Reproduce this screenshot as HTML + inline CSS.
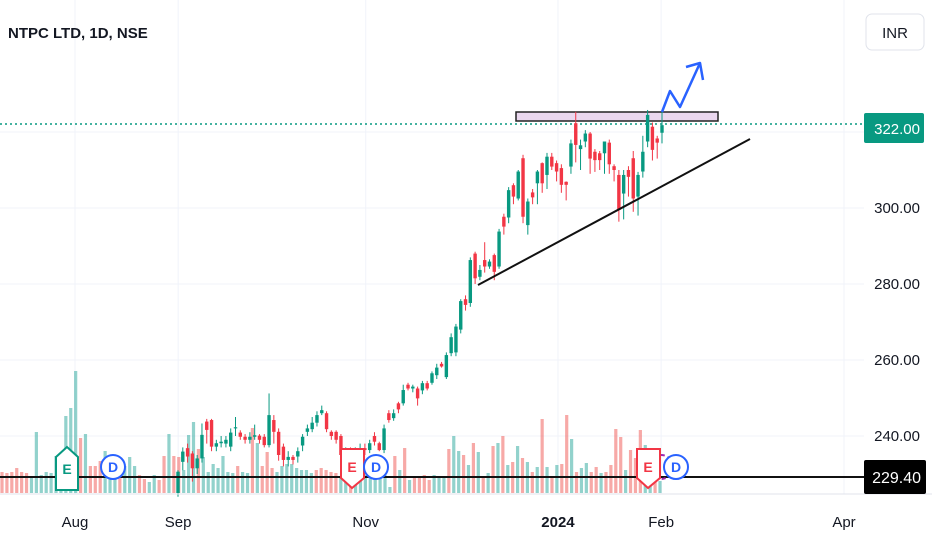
<!DOCTYPE html>
<html><head><meta charset="utf-8"><style>
html,body{margin:0;padding:0;background:#fff}
svg{display:block;font-family:"Liberation Sans",sans-serif}
</style></head><body>
<svg id="chart" width="932" height="550" viewBox="0 0 932 550" xmlns="http://www.w3.org/2000/svg">
<rect width="932" height="550" fill="#fff"/>
<g id="grid"></g>
<g id="vol"></g>
<line x1="0" y1="124" x2="864" y2="124" stroke="#089981" stroke-width="1.5" stroke-dasharray="2,3"/>
<rect x="516" y="112" width="202" height="9" fill="#ead7ee" stroke="#222" stroke-width="1.5"/>
<g id="candles"></g>
<line x1="478" y1="285" x2="750" y2="139" stroke="#111" stroke-width="2"/>
<polyline points="662,112 670,91 680,107 700,63" fill="none" stroke="#2962ff" stroke-width="2.5" stroke-linejoin="round"/>
<polyline points="686,67 700,63 703,80" fill="none" stroke="#2962ff" stroke-width="2.5" stroke-linejoin="round"/>
<line x1="0" y1="477" x2="864" y2="477" stroke="#111" stroke-width="2"/>
<g>
<polygon points="67,447 78,457 78,490 56,490 56,457" fill="#fff" stroke="#089981" stroke-width="2"/>
<text x="67" y="474" text-anchor="middle" font-size="14" font-weight="bold" fill="#089981">E</text></g>
<g>
<circle cx="113" cy="467" r="12" fill="#fff" stroke="#2962ff" stroke-width="2"/>
<text x="113" y="472" text-anchor="middle" font-size="14" font-weight="bold" fill="#2962ff">D</text></g>
<g>
<polygon points="341,449 364,449 364,478 352,488 341,478" fill="#fff" stroke="#f23645" stroke-width="2"/>
<text x="352" y="472" text-anchor="middle" font-size="14" font-weight="bold" fill="#f23645">E</text></g>
<g>
<circle cx="376" cy="467" r="12" fill="#fff" stroke="#2962ff" stroke-width="2"/>
<text x="376" y="472" text-anchor="middle" font-size="14" font-weight="bold" fill="#2962ff">D</text></g>
<circle cx="661" cy="467" r="12" fill="none" stroke="#9c27b0" stroke-width="2" stroke-dasharray="4,3"/>
<g>
<polygon points="637,449 660,449 660,478 648,488 637,478" fill="#fff" stroke="#f23645" stroke-width="2"/>
<text x="648" y="472" text-anchor="middle" font-size="14" font-weight="bold" fill="#f23645">E</text></g>
<g>
<circle cx="676" cy="467" r="12" fill="#fff" stroke="#2962ff" stroke-width="2"/>
<text x="676" y="472" text-anchor="middle" font-size="14" font-weight="bold" fill="#2962ff">D</text></g>
<line x1="0" y1="494" x2="932" y2="494" stroke="#e0e3eb" stroke-width="1"/>
<text x="8" y="38" font-size="15" font-weight="bold" fill="#131722">NTPC LTD, 1D, NSE</text>
<g>
<rect x="866" y="14" width="58" height="36" rx="6" fill="#fff" stroke="#e0e3eb"/>
<text x="895" y="38" text-anchor="middle" font-size="15" fill="#131722">INR</text></g>
<g id="yaxis"></g>
<g>
<rect x="864" y="113" width="60" height="30" rx="2" fill="#089981"/>
<text x="920" y="134" text-anchor="end" font-size="15" fill="#fff">322.00</text></g>
<g>
<rect x="864" y="460" width="62" height="34" rx="2" fill="#000"/>
<text x="921" y="483" text-anchor="end" font-size="16" fill="#fff">229.40</text></g>
<g id="xaxis"></g>
</svg>
<script>
const opens=[225,233.2,236.8,235.4,231.5,234.1,243.8,244.2,237.2,238.1,238,237.2,242,240.9,239.8,239,239.8,240.1,239.8,237.6,244.2,241.1,237.2,233.7,234.5,234.6,237.5,241.1,241.8,243.5,246,246,241.1,241.1,240,235,236.5,235.5,236.3,236.8,236.3,240,238.1,236.3,246,244.7,248.6,248.6,253.5,252.5,252.5,252,253.9,254,256,259,255.5,261.8,262,268,276,275,288,281.9,286.3,284.6,287.6,284.6,297.7,297.5,306,302.5,313.1,295.5,304.1,306.5,311.8,308.7,313.5,311.8,310.5,306.9,310.9,322.3,315.5,317.5,319.6,314.8,314.4,314.4,317.2,311,308.7,303.8,310,313.1,303,309.6,317.5,321.4,318.3,319.8];
const closes=[230.6,235.9,234.6,231.5,234.1,240.3,241.6,237.2,238.1,238.5,239,240.9,242.3,239.8,239,239.8,240.2,239,237.6,245.5,241.1,235,233.7,234.5,233.7,236,239.8,242,243.5,245.5,246.8,241.8,240,239,235,236.5,235.5,236.3,236.8,236.3,238.1,238.5,236.3,242,244.2,246,247,252.1,252.5,253,249.9,253.9,252.5,256.5,258,258.3,261.3,266,268.8,275.5,274.5,286.3,281.5,283.7,284.6,285.9,283.2,293.8,295.1,304.7,303,309.6,297.7,301.7,302.8,309.6,306.5,313.5,310.9,309.6,306.1,306.1,317,316.6,316.5,319.6,313,312.6,312.6,317.5,311.5,310,299.5,308.7,308.2,302.5,308.7,314.8,324.5,315.3,317.2,321.8];
const highs=[231,237,238,236,235,243.3,244.5,244.5,239,240,240,242,245,241.5,240.5,241,243,240.5,240.5,251.2,245.5,242,238,236,235,237,240.5,243,245,246.5,248,246.5,241.5,241.5,240.5,237,237,237,238,238,239,241,238.5,243,246.8,247,249,253.5,254,253.5,253,254.5,254.5,257,259,259.5,262,267,269.5,276,277,287,288.5,285,291,286.5,288,294.5,298.5,305.5,306.5,310,314,302.5,305,310,312,314.5,314.5,312.5,311.5,307,318,325.3,318,320.5,320,315.5,315,316,318,311.5,310,310,311,315,309.5,319,325.8,322.5,319,325.8];
const lows=[224,231,233,228,230,233,238,236,236,237,237,236,240,239,238,238,239,238,237,237,238,233.5,232,232,232.5,233,236,240,241,242.5,245.5,241,239,238,234,234.5,234.5,235,235.5,235,235.5,237.5,236,235.5,243.5,244,246,248,252,251.5,248,251,252,253.5,255,258,255,261,261,267,273,274,280,281,283,284,281,284,293,296,301,302,296,293,301,301,304,305,310,307,304,302,309,312,310,316,309,309.5,310,309,309,307,296.4,297,303,299,298,308,316,312.5,313,317];
const volumes=[21,20,21,25,21,20,16,61,18,21,20,37,30,77,85,122,55,59,27,27,32,42,30,27,29,27,36,27,18,14,11,18,13,37,59,37,36,23,58,71,44,36,21,29,25,37,21,20,27,21,20,65,50,27,41,25,21,27,29,29,25,23,23,20,23,25,23,21,20,15,18,20,16,20,18,18,23,29,18,6,37,23,45,13,15,16,18,13,18,16,16,44,57,42,38,28,50,41,15,20,47,50,57,28,31,47,35,31,21,26,74,26,16,28,29,78,54,21,25,30,21,26,20,21,28,64,56,23,43,35,63,48,20,15,12];
const volUp=[0,0,0,0,0,0,1,1,1,1,1,1,1,1,1,1,0,1,0,0,0,1,1,1,0,1,1,1,0,0,1,1,0,0,1,0,0,1,1,1,0,1,1,1,1,1,1,1,0,1,1,0,1,0,0,0,1,1,1,1,1,1,1,1,0,0,0,0,0,1,1,0,1,1,1,1,1,1,1,1,0,1,0,1,0,0,0,0,1,1,1,0,1,1,0,1,0,1,0,1,0,1,0,1,0,1,0,1,0,1,0,1,0,1,0,0,1,0,1,1,0,0,1,0,0,0,0,1,0,0,0,1,1,0,1,0];
const yTicks=[320,300,280,260,240];
const yTickLabels=["","300.00","280.00","260.00","240.00"];
const xTickLabels=["Aug","Sep","Nov","2024","Feb","Apr"];
const xTickDays=[0,22,62,103,125,164];

const NS="http://www.w3.org/2000/svg";
function mk(tag,attrs,parent){const e=document.createElementNS(NS,tag);for(const k in attrs)e.setAttribute(k,attrs[k]);parent.appendChild(e);return e;}
function yScale(p){return 208-(p-300)*3.8;}
function xDay(d){return 75+d*(844-75)/164;}
const cx0=178,cx1=662;
function xCandle(i){return cx0+i*(cx1-cx0)/(closes.length-1);}
function xVol(i){return 2+i*(660-2)/(volumes.length-1);}
function yVol(v){return 493-v*1.0;}

const grid=document.getElementById('grid');
yTicks.forEach(t=>{const l=mk('line',{x1:0,x2:864,y1:yScale(t),y2:yScale(t),stroke:'#f0f3fa','stroke-width':1},grid);

});
xTickDays.forEach(d=>{const l=mk('line',{x1:xDay(d),x2:xDay(d),y1:0,y2:494,stroke:'#f0f3fa','stroke-width':1},grid);

});

const vg=document.getElementById('vol');
volumes.forEach((v,i)=>{const r=mk('rect',{x:xVol(i)-1.6,y:yVol(v),width:3.2,height:493-yVol(v),fill:volUp[i]?'rgba(38,166,154,0.5)':'rgba(239,83,80,0.5)'},vg);

});

const cg=document.getElementById('candles');
closes.forEach((c,i)=>{const o=opens[i],up=c>=o,col=up?'#089981':'#f23645',x=xCandle(i);
const g=mk('g',{},cg);


mk('line',{x1:x,x2:x,y1:yScale(highs[i]),y2:yScale(lows[i]),stroke:col,'stroke-width':1},g);
const top=yScale(Math.max(o,c)),bot=yScale(Math.min(o,c));
mk('rect',{x:x-1.7,y:top,width:3.4,height:Math.max(1,bot-top),fill:col},g);});

const ya=document.getElementById('yaxis');
yTicks.forEach((t,i)=>{if(!yTickLabels[i])return;const tx=mk('text',{x:920,y:yScale(t)+5,'text-anchor':'end','font-size':15,fill:'#131722'},ya);tx.textContent=yTickLabels[i];

});

const xa=document.getElementById('xaxis');
xTickLabels.forEach((s,i)=>{const tx=mk('text',{x:xDay(xTickDays[i]),y:527,'text-anchor':'middle','font-size':15,fill:'#131722','font-weight':s==='2024'?'bold':'normal'},xa);tx.textContent=s;

});
</script>
</body></html>
